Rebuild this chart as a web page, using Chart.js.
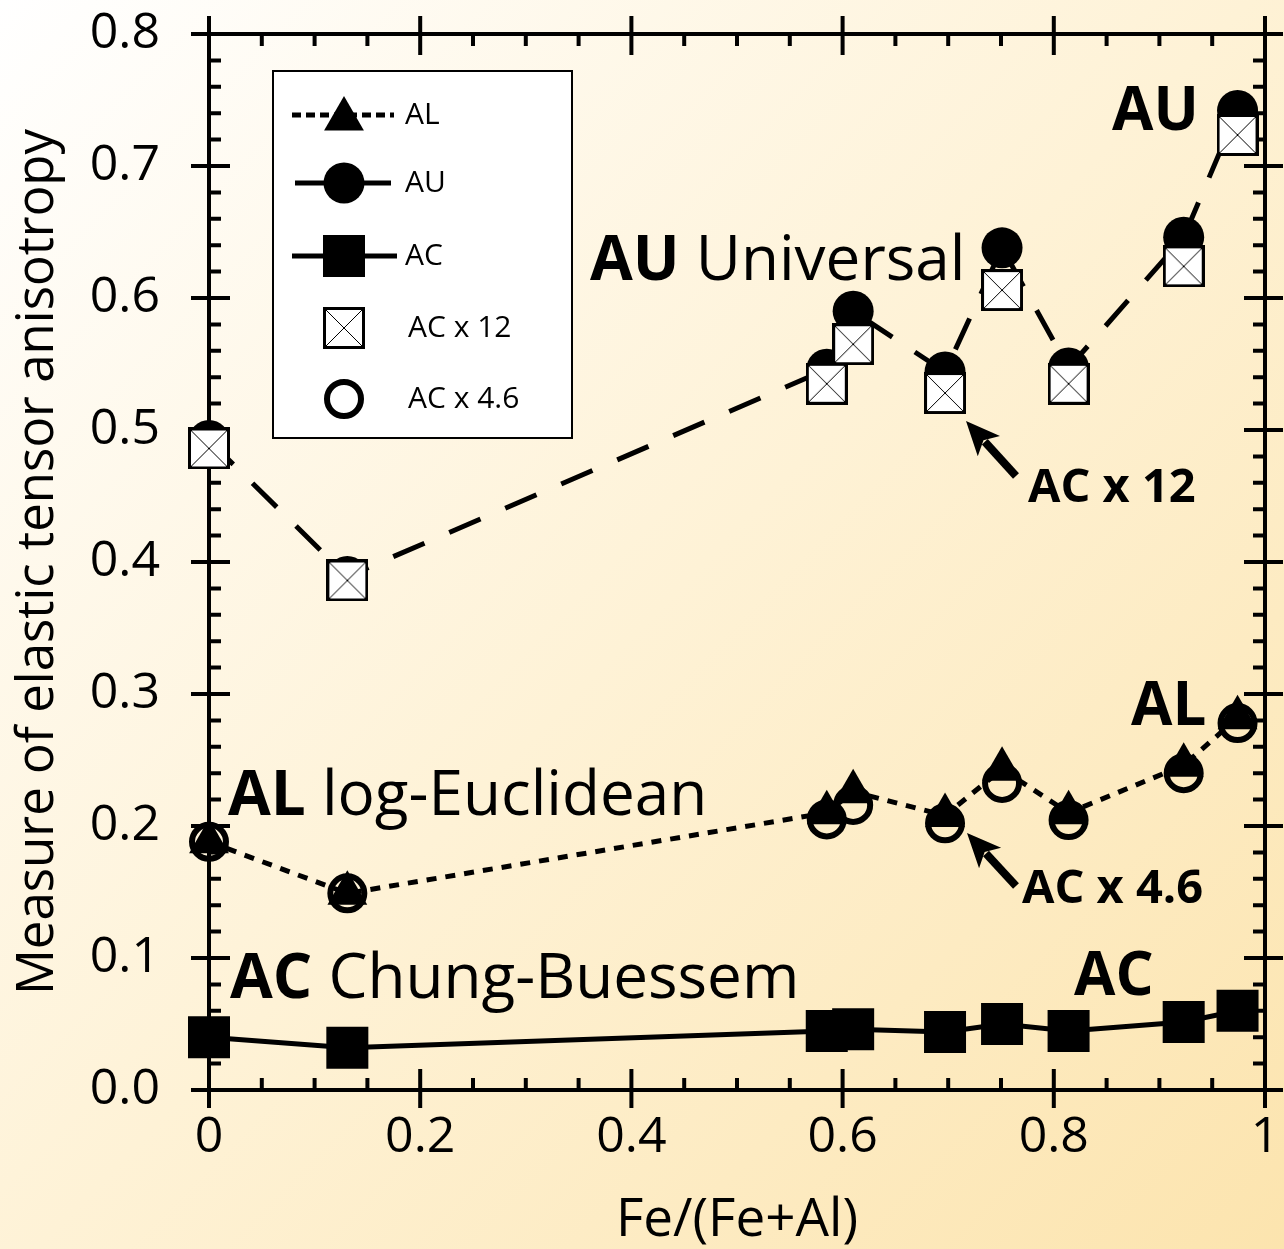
<!DOCTYPE html>
<html>
<head>
<meta charset="utf-8">
<script src="https://cdn.jsdelivr.net/npm/chart.js@4/dist/chart.umd.min.js"></script>
<style>
  html, body { margin: 0; padding: 0; background: #fff; }
  #wrap { width: 1284px; height: 1249px; position: relative; }
</style>
</head>
<body>
<div id="wrap"><canvas id="c" width="1284" height="1249"></canvas></div>
<script>
// ---- data ----
const composition = [0, 0.131, 0.585, 0.610, 0.697, 0.751, 0.814, 0.923, 0.974];
const AL      = [0.188, 0.149, 0.210, 0.226, 0.208, 0.243, 0.210, 0.246, 0.282];
const AU      = [0.492, 0.389, 0.546, 0.590, 0.544, 0.638, 0.547, 0.646, 0.742];
const AC      = [0.040, 0.032, 0.0447, 0.046, 0.044, 0.050, 0.0447, 0.0515, 0.060];
const ACx12   = [0.486, 0.386, 0.535, 0.565, 0.528, 0.606, 0.535, 0.624, 0.7235];
const ACx46   = [0.188, 0.149, 0.205, 0.216, 0.202, 0.2326, 0.2045, 0.240, 0.278];

const xTickValues = [0, 0.2, 0.4, 0.6, 0.8, 1];
const xTickLabels = ['0', '0.2', '0.4', '0.6', '0.8', '1'];
const yTickValues = [0, 0.1, 0.2, 0.3, 0.4, 0.5, 0.6, 0.7, 0.8];
const yTickLabels = ['0.0', '0.1', '0.2', '0.3', '0.4', '0.5', '0.6', '0.7', '0.8'];
const xMinorStep = 0.05;
const yMinorStep = 0.02;

const seriesNames = ['AL', 'AU', 'AC', 'AC x 12', 'AC x 4.6'];
const xTitle = 'Fe/(Fe+Al)';
const yTitle = 'Measure of elastic tensor anisotropy';

const FONT = "'Open Sans', 'Noto Sans', sans-serif";

function pts(ys) { return composition.map((x, i) => ({ x: x, y: ys[i] })); }

// boxed-X marker
function makeBox() {
  const s = 42;
  const c = document.createElement('canvas');
  c.width = s; c.height = s;
  const g = c.getContext('2d');
  g.fillStyle = '#fff';
  g.fillRect(1, 1, s - 2, s - 2);
  g.strokeStyle = '#000';
  g.lineWidth = 1;
  g.beginPath();
  g.moveTo(3, 3); g.lineTo(s - 3, s - 3);
  g.moveTo(s - 3, 3); g.lineTo(3, s - 3);
  g.stroke();
  g.lineWidth = 3;
  g.strokeRect(1.5, 1.5, s - 3, s - 3);
  return c;
}
const boxImg = makeBox();

const datasets = [
  { label: seriesNames[3], data: pts(ACx12), showLine: false, order: 0,
    pointStyle: boxImg, pointRadius: 21, clip: false },
  { label: seriesNames[1], data: pts(AU), showLine: true, order: 1,
    borderColor: '#000', borderWidth: 5, borderDash: [34, 27], tension: 0,
    pointStyle: 'circle', pointRadius: 20.5, pointBackgroundColor: '#000',
    pointBorderWidth: 0, clip: false },
  { label: seriesNames[4], data: pts(ACx46), showLine: false, order: 2,
    pointStyle: 'circle', pointRadius: 17, pointBackgroundColor: 'rgba(0,0,0,0)',
    pointBorderColor: '#000', pointBorderWidth: 6, clip: false },
  { label: seriesNames[0], data: pts(AL), showLine: true, order: 3,
    borderColor: '#000', borderWidth: 5, borderDash: [10, 9], tension: 0,
    pointStyle: 'triangle', pointRadius: 23, pointBackgroundColor: '#000',
    pointBorderWidth: 0, clip: false },
  { label: seriesNames[2], data: pts(AC), showLine: true, order: 4,
    borderColor: '#000', borderWidth: 5, tension: 0,
    pointStyle: 'rect', pointRadius: 29.7, pointBackgroundColor: '#000',
    pointBorderWidth: 0, clip: false }
];

// background gradient
const bgPlugin = {
  id: 'bg',
  beforeDraw(chart) {
    const ctx = chart.ctx;
    const g = ctx.createLinearGradient(0, 0, chart.width, chart.height);
    g.addColorStop(0, '#FFFFFF');
    g.addColorStop(0.5, '#FEF2D6');
    g.addColorStop(1, '#FCE4AE');
    ctx.save();
    ctx.fillStyle = g;
    ctx.fillRect(0, 0, chart.width, chart.height);
    ctx.restore();
  }
};

// frame with major/minor ticks on all four sides
const framePlugin = {
  id: 'frame',
  beforeDatasetsDraw(chart) {
    const { ctx, chartArea: a, scales: { x, y } } = chart;
    ctx.save();
    ctx.strokeStyle = '#000';
    ctx.lineWidth = 4;
    ctx.lineCap = 'butt';
    ctx.strokeRect(a.left, a.top, a.right - a.left, a.bottom - a.top);
    const majOut = 18, majIn = 21, minIn = 12;
    ctx.beginPath();
    for (let k = 0; k <= Math.round(1 / xMinorStep); k++) {
      const v = k * xMinorStep;
      const px = x.getPixelForValue(v);
      const major = xTickValues.some(t => Math.abs(t - v) < 1e-9);
      if (major) {
        ctx.moveTo(px, a.bottom + majOut); ctx.lineTo(px, a.bottom - majIn);
        ctx.moveTo(px, a.top - majOut); ctx.lineTo(px, a.top + majIn);
      } else {
        ctx.moveTo(px, a.bottom); ctx.lineTo(px, a.bottom - minIn);
        ctx.moveTo(px, a.top); ctx.lineTo(px, a.top + minIn);
      }
    }
    for (let k = 0; k <= Math.round(0.8 / yMinorStep); k++) {
      const v = k * yMinorStep;
      const py = y.getPixelForValue(v);
      const major = yTickValues.some(t => Math.abs(t - v) < 1e-9);
      if (major) {
        ctx.moveTo(a.left - majOut, py); ctx.lineTo(a.left + majIn, py);
        ctx.moveTo(a.right + majOut, py); ctx.lineTo(a.right - majIn, py);
      } else {
        ctx.moveTo(a.left, py); ctx.lineTo(a.left + minIn, py);
        ctx.moveTo(a.right, py); ctx.lineTo(a.right - minIn, py);
      }
    }
    ctx.stroke();
    ctx.restore();
  }
};

function drawRich(ctx, parts, x, y, size) {
  let cx = x;
  for (const p of parts) {
    ctx.font = (p.bold ? 'bold ' : '') + size + 'px ' + FONT;
    ctx.fillText(p.t, cx, y);
    cx += ctx.measureText(p.t).width;
  }
}

function arrow(ctx, x1, y1, x2, y2) {
  const ang = Math.atan2(y2 - y1, x2 - x1);
  const headLen = 34, headW = 15;
  const bx = x2 - Math.cos(ang) * headLen, by = y2 - Math.sin(ang) * headLen;
  ctx.beginPath();
  ctx.lineWidth = 8;
  ctx.moveTo(x1, y1);
  ctx.lineTo(x2 - Math.cos(ang) * (headLen - 6), y2 - Math.sin(ang) * (headLen - 6));
  ctx.stroke();
  ctx.beginPath();
  ctx.moveTo(x2, y2);
  ctx.lineTo(bx + Math.sin(ang) * headW, by - Math.cos(ang) * headW);
  ctx.lineTo(x2 - Math.cos(ang) * (headLen - 8), y2 - Math.sin(ang) * (headLen - 8));
  ctx.lineTo(bx - Math.sin(ang) * headW, by + Math.cos(ang) * headW);
  ctx.closePath();
  ctx.fill();
}

const annotPlugin = {
  id: 'annot',
  afterDatasetsDraw(chart) {
    const ctx = chart.ctx;
    ctx.save();
    ctx.fillStyle = '#000';
    ctx.strokeStyle = '#000';
    ctx.textBaseline = 'alphabetic';
    ctx.textAlign = 'left';
    drawRich(ctx, [{ t: 'AU', bold: true }, { t: ' Universal' }], 590, 280, 62);
    drawRich(ctx, [{ t: 'AL', bold: true }, { t: ' log-Euclidean' }], 228, 815, 62);
    drawRich(ctx, [{ t: 'AC', bold: true }, { t: ' Chung-Buessem' }], 230, 998, 62);
    drawRich(ctx, [{ t: 'AU', bold: true }], 1112, 130, 60);
    drawRich(ctx, [{ t: 'AL', bold: true }], 1131, 725, 60);
    drawRich(ctx, [{ t: 'AC', bold: true }], 1074, 995, 60);
    drawRich(ctx, [{ t: 'AC x 12', bold: true }], 1028, 502, 47);
    drawRich(ctx, [{ t: 'AC x 4.6', bold: true }], 1022, 903, 47);
    arrow(ctx, 1016, 476, 966, 421);
    arrow(ctx, 1016, 886, 967, 833);

    // legend box
    const L = 273, T = 71, R = 572, B = 438;
    ctx.fillStyle = '#fff';
    ctx.fillRect(L, T, R - L, B - T);
    ctx.lineWidth = 2;
    ctx.strokeStyle = '#000';
    ctx.strokeRect(L, T, R - L, B - T);
    const rows = [115, 183, 256, 328, 399];
    const mx = 344;
    ctx.fillStyle = '#000';
    ctx.lineWidth = 5;
    ctx.setLineDash([9, 5]);
    ctx.beginPath(); ctx.moveTo(292, rows[0]); ctx.lineTo(394, rows[0]); ctx.stroke();
    ctx.setLineDash([]);
    Chart.helpers.drawPoint(ctx, { pointStyle: 'triangle', radius: 23, borderWidth: 0 }, mx, rows[0] + 4);
    ctx.beginPath(); ctx.moveTo(295, rows[1]); ctx.lineTo(391, rows[1]); ctx.stroke();
    Chart.helpers.drawPoint(ctx, { pointStyle: 'circle', radius: 20.5, borderWidth: 0 }, mx, rows[1]);
    ctx.beginPath(); ctx.moveTo(292, rows[2]); ctx.lineTo(397, rows[2]); ctx.stroke();
    Chart.helpers.drawPoint(ctx, { pointStyle: 'rect', radius: 29.7, borderWidth: 0 }, mx, rows[2]);
    Chart.helpers.drawPoint(ctx, { pointStyle: boxImg, radius: 21, borderWidth: 0 }, mx, rows[3]);
    ctx.lineWidth = 6;
    ctx.beginPath(); ctx.arc(mx, rows[4], 17, 0, Math.PI * 2); ctx.stroke();

    ctx.fillStyle = '#000';
    ctx.textBaseline = 'middle';
    ctx.font = '30px ' + FONT;
    ctx.fillText(seriesNames[0], 405, rows[0]);
    ctx.fillText(seriesNames[1], 405, rows[1]);
    ctx.fillText(seriesNames[2], 405, rows[2]);
    ctx.fillText(seriesNames[3], 408, rows[3]);
    ctx.fillText(seriesNames[4], 408, rows[4]);
    ctx.restore();
  }
};

new Chart(document.getElementById('c'), {
  type: 'scatter',
  data: { datasets },
  options: {
    responsive: false,
    animation: false,
    events: [],
    layout: { autoPadding: false, padding: { top: 34, right: 19, left: 0, bottom: 0 } },
    plugins: { legend: { display: false }, tooltip: { enabled: false } },
    scales: {
      x: {
        type: 'linear', min: 0, max: 1,
        afterBuildTicks(s) { s.ticks = xTickValues.map(v => ({ value: v })); },
        afterFit(s) { s.height = 159; s.paddingLeft = 0; s.paddingRight = 0; s.paddingTop = 0; s.paddingBottom = 0; },
        grid: { display: false, drawTicks: true, tickLength: 18 },
        border: { display: false },
        ticks: {
          color: '#000', padding: 0, maxRotation: 0, autoSkip: false,
          font: { family: FONT, size: 50 },
          callback(v) { const i = xTickValues.findIndex(t => Math.abs(t - v) < 1e-9); return i >= 0 ? xTickLabels[i] : ''; }
        },
        title: { display: true, text: xTitle, color: '#000',
          font: { family: FONT, size: 53, lineHeight: 1 }, padding: { top: 0, bottom: 2 } }
      },
      y: {
        type: 'linear', min: 0, max: 0.8,
        afterBuildTicks(s) { s.ticks = yTickValues.map(v => ({ value: v })); },
        afterFit(s) { s.width = 209; s.paddingLeft = 0; s.paddingRight = 0; s.paddingTop = 0; s.paddingBottom = 0; },
        grid: { display: false, drawTicks: false },
        border: { display: false },
        ticks: {
          color: '#000', padding: 49, autoSkip: false,
          font: { family: FONT, size: 50 },
          callback(v) { const i = yTickValues.findIndex(t => Math.abs(t - v) < 1e-9); return i >= 0 ? yTickLabels[i] : ''; }
        },
        title: { display: true, text: yTitle, color: '#000',
          font: { family: FONT, size: 51, lineHeight: 1 }, padding: { top: 13, bottom: 0 } }
      }
    }
  },
  plugins: [bgPlugin, framePlugin, annotPlugin]
});
</script>
</body>
</html>
